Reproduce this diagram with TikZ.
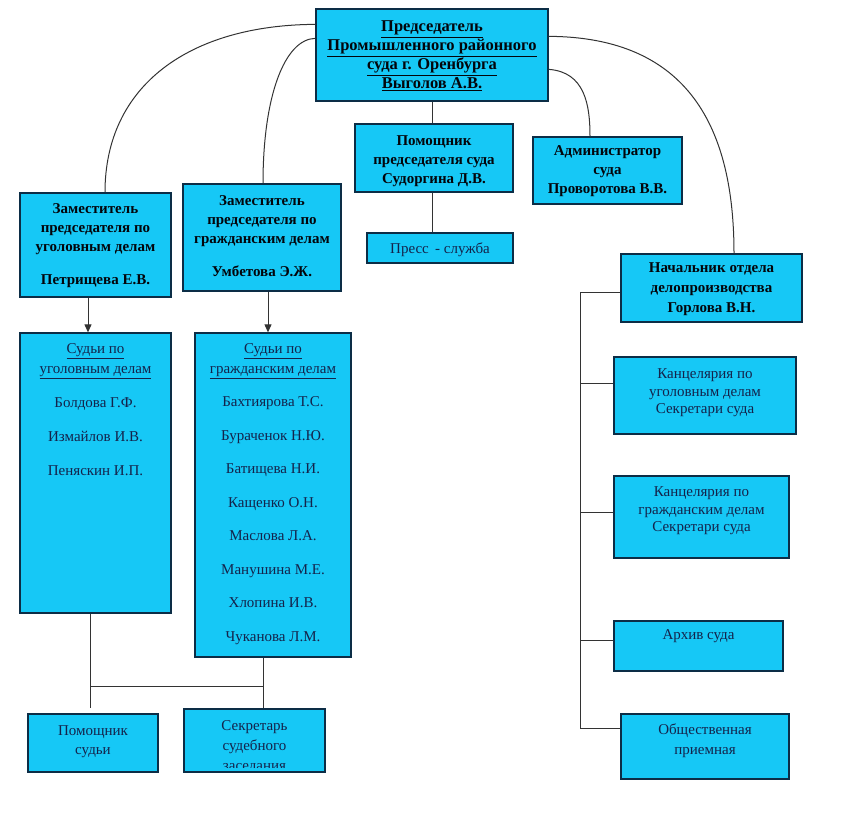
\documentclass[tikz,border=0pt]{standalone}
\usepackage{fontspec}
\setmainfont{Liberation Serif}
\usetikzlibrary{arrows.meta}
\definecolor{boxfill}{RGB}{22,200,246}
\definecolor{boxline}{RGB}{12,45,70}
\definecolor{txtc}{RGB}{20,35,75}
\begin{document}
\begin{tikzpicture}[x=1pt,y=-1pt,
  box/.style={draw=boxline,line width=1.3pt,fill=boxfill,inner sep=0pt},
  txt/.style={text=txtc,align=center,inner sep=0pt,font=\fontsize{15}{19}\selectfont},
  btxt/.style={text=black!85!txtc,align=center,inner sep=0pt,font=\bfseries\fontsize{15}{19}\selectfont},
  ln/.style={draw=black!80,line width=1pt},
  arr/.style={ln,-{Triangle[length=8pt,width=7pt]}}]
\fill[white] (0,0) rectangle (850,812);
\useasboundingbox (0,0) rectangle (850,812);
% boxes
\node[box,minimum width=232pt,minimum height=92pt] (top) at (432,55) {};
\node[box,minimum width=158pt,minimum height=68pt] (pom) at (434,158) {};
\node[box,minimum width=146pt,minimum height=30pt] (press) at (440,248) {};
\node[box,minimum width=149pt,minimum height=67pt] (adm) at (607.5,170.5) {};
\node[box,minimum width=181pt,minimum height=68pt] (nach) at (711.5,288) {};
\node[box,minimum width=151pt,minimum height=104pt] (dep1) at (95.5,245) {};
\node[box,minimum width=158pt,minimum height=107pt] (dep2) at (262,237.5) {};
\node[box,minimum width=151pt,minimum height=280pt] (jud1) at (95.5,473) {};
\node[box,minimum width=156pt,minimum height=324pt] (jud2) at (273,495) {};
\node[box,minimum width=130pt,minimum height=58pt] (poms) at (93,743) {};
\node[box,minimum width=141pt,minimum height=63pt] (sek) at (254.5,740.5) {};
\node[box,minimum width=182pt,minimum height=77pt] (kanc1) at (705,395.5) {};
\node[box,minimum width=175pt,minimum height=82pt] (kanc2) at (701.5,517) {};
\node[box,minimum width=169pt,minimum height=50pt] (arch) at (698.5,646) {};
\node[box,minimum width=168pt,minimum height=65pt] (obsh) at (705,746.5) {};
% texts
\node[btxt,font=\bfseries\fontsize{16.5}{19}\selectfont] (ttop) at (432,56) {\underline{Председатель}\\\underline{Промышленного районного}\\\underline{суда г. Оренбурга}\\\underline{Выголов А.В.}};
\node[btxt] (tpom) at (434,161) {Помощник\\председателя суда\\Судоргина Д.В.};
\node[txt] (tpress) at (440,250) {Пресс \,- служба};
\node[btxt] (tadm) at (607.5,171) {Администратор\\суда\\Проворотова В.В.};
\node[btxt,font=\bfseries\fontsize{15}{20}\selectfont] (tnach) at (711.5,289) {Начальник отдела\\делопроизводства\\Горлова В.Н.};
\node[btxt,anchor=north] (tdep1) at (95.5,203) {Заместитель\\председателя по\\уголовным делам\\[14pt]Петрищева Е.В.};
\node[btxt,anchor=north] (tdep2) at (262,195) {Заместитель\\председателя по\\гражданским делам\\[14pt]Умбетова Э.Ж.};
\node[txt,anchor=north,font=\fontsize{15}{34}\selectfont] (tjud1) at (95.5,343) {\underline{Судьи по}\\[-14pt]\underline{уголовным делам}\\Болдова Г.Ф.\\Измайлов И.В.\\Пеняскин И.П.};
\node[txt,anchor=north,font=\fontsize{15}{33.5}\selectfont] (tjud2) at (273,343) {\underline{Судьи по}\\[-13.5pt]\underline{гражданским делам}\\Бахтиярова Т.С.\\Бураченок Н.Ю.\\Батищева Н.И.\\Кащенко О.Н.\\Маслова Л.А.\\Манушина М.Е.\\Хлопина И.В.\\Чуканова Л.М.};
\node[txt] (tpoms) at (93,742) {Помощник\\судьи};
\begin{scope}
\clip ([shift={(1pt,5pt)}]sek.south west) rectangle ([shift={(-1pt,1pt)}]sek.north east);
\node[txt,anchor=north,font=\fontsize{15}{20}\selectfont] (tsek) at (254.5,720) {Секретарь\\судебного\\заседания};
\end{scope}
\node[txt,font=\fontsize{15}{17.5}\selectfont] (tkanc1) at (705,393) {Канцелярия по\\уголовным делам\\Секретари суда};
\node[txt,font=\fontsize{15}{17.5}\selectfont] (tkanc2) at (701.5,511) {Канцелярия по\\гражданским делам\\Секретари суда};
\node[txt] (tarch) at (698.5,636) {Архив суда};
\node[txt,font=\fontsize{15}{20}\selectfont] (tobsh) at (705,741) {Общественная\\приемная};
% connectors
\draw[ln] (top.south) -- (top.south |- pom.north);
\draw[ln] (top.south |- pom.south) -- (top.south |- press.north);
\draw[ln] ([yshift=-16pt]top.north west) .. controls (190,25) and (105,85) .. ([xshift=9.5pt]dep1.north);
\draw[ln] ([yshift=-30pt]top.north west) .. controls (285,39) and (263,95) .. ([xshift=1pt]dep2.north);
\draw[ln] ([yshift=-61pt]top.north east) .. controls (585,72) and (590,105) .. ([xshift=-17.5pt]adm.north);
\draw[ln] ([yshift=-28pt]top.north east) .. controls (690,37) and (734,130) .. ([xshift=22.5pt]nach.north);
\draw[arr] ([xshift=-7.5pt]dep1.south) -- ([xshift=-7.5pt]jud1.north);
\draw[arr] ([xshift=6pt]dep2.south) -- ([xshift=6pt]dep2.south |- jud2.north);
\coordinate (ja) at (90,686);
\coordinate (jb) at (263,686);
\draw[ln] (jud1.south -| ja) -- (ja) -- (jb);
\draw[ln] (jud2.south -| jb) -- (sek.north -| jb);
\draw[ln] (ja) -- ([yshift=5pt]poms.north -| ja);
\coordinate (rt) at (580,292);
\coordinate (rb) at (580,728);
\draw[ln] (nach.west |- rt) -- (rt) -- (rb) -- (obsh.west |- rb);
\draw[ln] (rt |- 0,383) -- (kanc1.west |- 0,383);
\draw[ln] (rt |- 0,512) -- (kanc2.west |- 0,512);
\draw[ln] (rt |- 0,640) -- (arch.west |- 0,640);
\end{tikzpicture}
\end{document}
